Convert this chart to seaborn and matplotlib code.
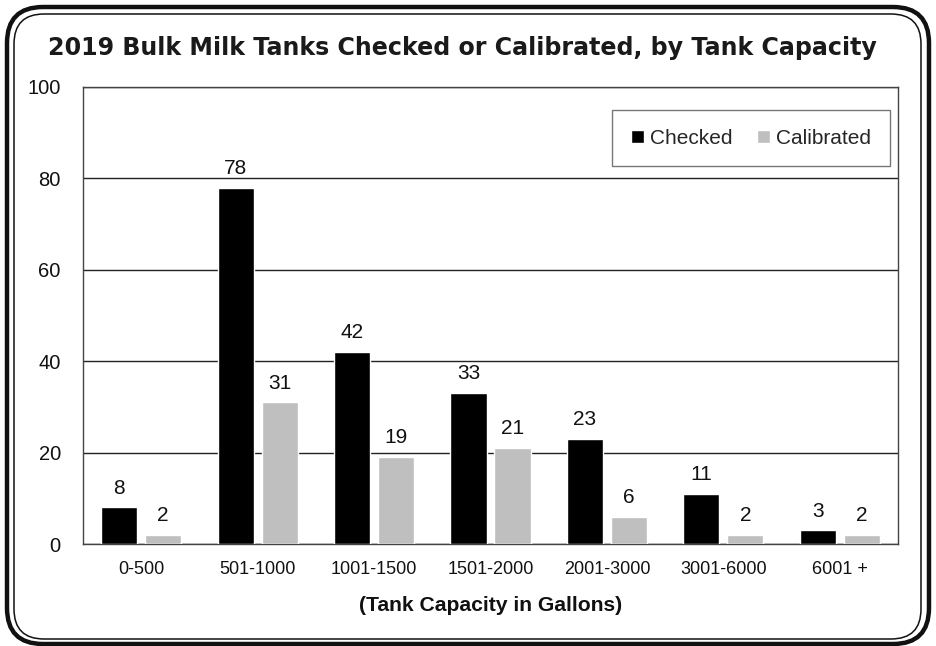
import matplotlib
matplotlib.use("Agg")
import matplotlib.pyplot as plt
import seaborn as sns
import pandas as pd
from matplotlib.patches import FancyBboxPatch
from matplotlib.transforms import Affine2D

# Tank capacity bins and counts
capacities = ["0-500", "501-1000", "1001-1500", "1501-2000", "2001-3000", "3001-6000", "6001 +"]
checked = [8, 78, 42, 33, 23, 11, 3]
calibrated = [2, 31, 19, 21, 6, 2, 2]
series_names = ["Checked", "Calibrated"]
series_colors = ["#000000", "#BFBFBF"]

df = pd.DataFrame({
    "Capacity": capacities * 2,
    "Count": checked + calibrated,
    "Series": [series_names[0]] * len(capacities) + [series_names[1]] * len(capacities),
})

sns.set_theme(style="white")
plt.rcParams["font.family"] = ["Liberation Sans", "DejaVu Sans"]

W, H = 937, 646
fig = plt.figure(figsize=(W / 100, H / 100), dpi=100)
ax = fig.add_axes([83 / W, 1 - 544 / H, (898 - 83) / W, (544 - 87) / H])

sns.barplot(data=df, x="Capacity", y="Count", hue="Series", order=capacities,
            hue_order=series_names, palette=series_colors, width=0.756, gap=0.18,
            saturation=1, ax=ax, zorder=3)

ax.set_ylim(0, 100)
ax.set_yticks(range(0, 101, 20))
ax.yaxis.grid(True, color="#222222", linewidth=1.0, zorder=0)
ax.xaxis.grid(False)
for s in ax.spines.values():
    s.set_visible(True)
    s.set_color("#444444")
    s.set_linewidth(1.0)
ax.tick_params(axis="y", labelsize=14.5, pad=16, length=0, labelcolor="#111111")
ax.tick_params(axis="x", labelsize=13, pad=12, length=0, labelcolor="#111111")
ax.set_ylabel("")
ax.set_xlabel("(Tank Capacity in Gallons)", fontsize=15.2, fontweight="bold",
              labelpad=13, color="#111111")

for cont in ax.containers:
    ax.bar_label(cont, fmt="%d", padding=7, fontsize=15, color="#111111")

leg = ax.legend(ncol=2, loc="upper right", bbox_to_anchor=(0.99, 0.95),
                borderaxespad=0, fontsize=15, frameon=True, fancybox=False,
                handlelength=0.6, handleheight=0.6, handletextpad=0.3,
                columnspacing=1.2, borderpad=0.9, title=None)
leg.get_frame().set_edgecolor("#555555")
leg.get_frame().set_linewidth(1.0)

fig.text(462 / W, 1 - 48 / H, "2019 Bulk Milk Tanks Checked or Calibrated, by Tank Capacity",
         ha="center", va="center", fontsize=17.1, fontweight="bold",
         family=["DejaVu Sans"], color="#1a1a1a")

# Double rounded frame drawn in pixel units
px = Affine2D().scale(1 / W, 1 / H) + fig.transFigure
outer = FancyBboxPatch((7, 2), 922, 637, boxstyle="round,pad=0,rounding_size=36",
                       transform=px, fill=False, edgecolor="#111111", linewidth=3.2)
inner = FancyBboxPatch((14, 7), 907, 625, boxstyle="round,pad=0,rounding_size=30",
                       transform=px, fill=False, edgecolor="#111111", linewidth=1.1)
fig.patches.extend([outer, inner])

fig.savefig("out.png", dpi=100)
